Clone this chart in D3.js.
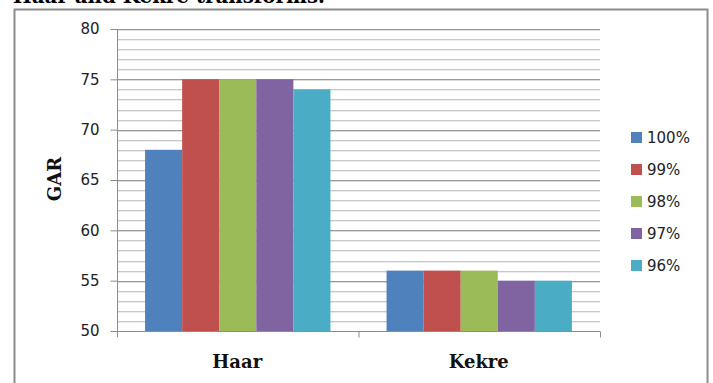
<!DOCTYPE html>
<html><head><meta charset="utf-8">
<script src="https://cdn.jsdelivr.net/npm/d3@7"></script>
<style>body{margin:0;background:#fff;}svg{display:block;}</style>
</head><body>
<svg id="c" width="713" height="383"></svg>
<script>
const categories = ["Haar", "Kekre"];
const seriesNames = ["100%", "99%", "98%", "97%", "96%"];
const haarValues = [68, 75, 75, 75, 74];
const kekreValues = [56, 56, 56, 55, 55];
const yTicks = [50, 55, 60, 65, 70, 75, 80];
const colors = ["#4F81BD", "#C0504D", "#9BBB59", "#8064A2", "#4BACC6"];
const titleText = "Haar and Kekre transforms.";
const yTitle = "GAR";

const values = [haarValues, kekreValues];
const svg = d3.select("#c");

// caption text cut at the top
svg.append("text").attr("x", 13).attr("y", 3)
  .attr("font-family", "DejaVu Serif").attr("font-weight", "bold").attr("font-size", 20)
  .attr("textLength", 312).attr("lengthAdjust", "spacingAndGlyphs")
  .attr("fill", "#000").text(titleText);

// chart frame
svg.append("rect").attr("x", 14.5).attr("y", 9.5).attr("width", 693).attr("height", 400)
  .attr("fill", "none").attr("stroke", "#8c8c8c").attr("stroke-width", 2);

const pLeft = 117, pRight = 600, pTop = 29, pBottom = 331;
const x0 = d3.scaleBand().domain(categories).range([pLeft, pRight]).paddingInner(0).paddingOuter(0);
const x1 = d3.scaleBand().domain(seriesNames).range([0, x0.bandwidth()]).paddingInner(0).paddingOuter(0.757);
const y = d3.scaleLinear().domain([50, 80]).range([pBottom, pTop]);

// minor gridlines
const minor = d3.range(51, 80).filter(v => v % 5 !== 0);
const g = svg.append("g");
minor.forEach(v => {
  const yy = Math.round(y(v)) + 0.5;
  g.append("line").attr("x1", pLeft).attr("x2", pRight).attr("y1", yy).attr("y2", yy).attr("stroke", "#c8c8c8");
  g.append("line").attr("x1", pLeft).attr("x2", pRight).attr("y1", yy + 1).attr("y2", yy + 1).attr("stroke", "#ececec");
});
yTicks.filter(v => v !== 50).forEach(v => {
  const yy = Math.round(y(v)) + 0.5;
  g.append("line").attr("x1", pLeft).attr("x2", pRight).attr("y1", yy).attr("y2", yy).attr("stroke", "#9a9a9a");
  g.append("line").attr("x1", pLeft).attr("x2", pRight).attr("y1", yy + 1).attr("y2", yy + 1).attr("stroke", "#dcdcdc");
});

// bars
categories.forEach((c, ci) => {
  seriesNames.forEach((s, si) => {
    const v = values[ci][si];
    svg.append("rect")
      .attr("x", x0(c) + x1(s)).attr("width", x1.bandwidth())
      .attr("y", y(v)).attr("height", y(50) - y(v))
      .attr("fill", colors[si]);
  });
});

// y axis
const yAxis = d3.axisLeft(y).tickValues(yTicks).tickSize(7).tickPadding(11);
const ya = svg.append("g").attr("transform", `translate(${pLeft + 0.5},0)`).call(yAxis);
ya.select(".domain").attr("stroke", "#8c8c8c").attr("d", `M0,${pTop}V${pBottom}`);
ya.selectAll(".tick line").attr("stroke", "#8c8c8c");
ya.selectAll(".tick text").attr("font-family", "DejaVu Sans").attr("font-size", 15).attr("fill", "#222");

// x axis
const xa = svg.append("g").attr("transform", `translate(0,${pBottom + 0.5})`);
xa.append("line").attr("x1", pLeft).attr("x2", pRight).attr("stroke", "#8c8c8c");
[pLeft, x0("Kekre"), pRight].forEach(px => {
  xa.append("line").attr("x1", px + 0.5).attr("x2", px + 0.5).attr("y1", 0).attr("y2", 6).attr("stroke", "#8c8c8c");
});
categories.forEach(c => {
  svg.append("text").attr("x", x0(c) + x0.bandwidth() / 2 - 0.5).attr("y", 367.5)
    .attr("text-anchor", "middle").attr("font-family", "DejaVu Serif").attr("font-weight", "bold")
    .attr("font-size", 18).attr("fill", "#111").text(c);
});

// y title
svg.append("text").attr("transform", "translate(61,179) rotate(-90)")
  .attr("text-anchor", "middle").attr("font-family", "DejaVu Serif").attr("font-weight", "bold")
  .attr("font-size", 18).attr("fill", "#111").text(yTitle);

// legend
const leg = svg.append("g");
seriesNames.forEach((s, i) => {
  const cy = 137 + i * 32;
  leg.append("rect").attr("x", 631).attr("y", cy - 5).attr("width", 11).attr("height", 11).attr("fill", colors[i]);
  leg.append("text").attr("x", 647).attr("y", cy + 5.5).attr("font-family", "DejaVu Sans")
    .attr("font-size", 15).attr("fill", "#222").text(s);
});
</script>
</body></html>
